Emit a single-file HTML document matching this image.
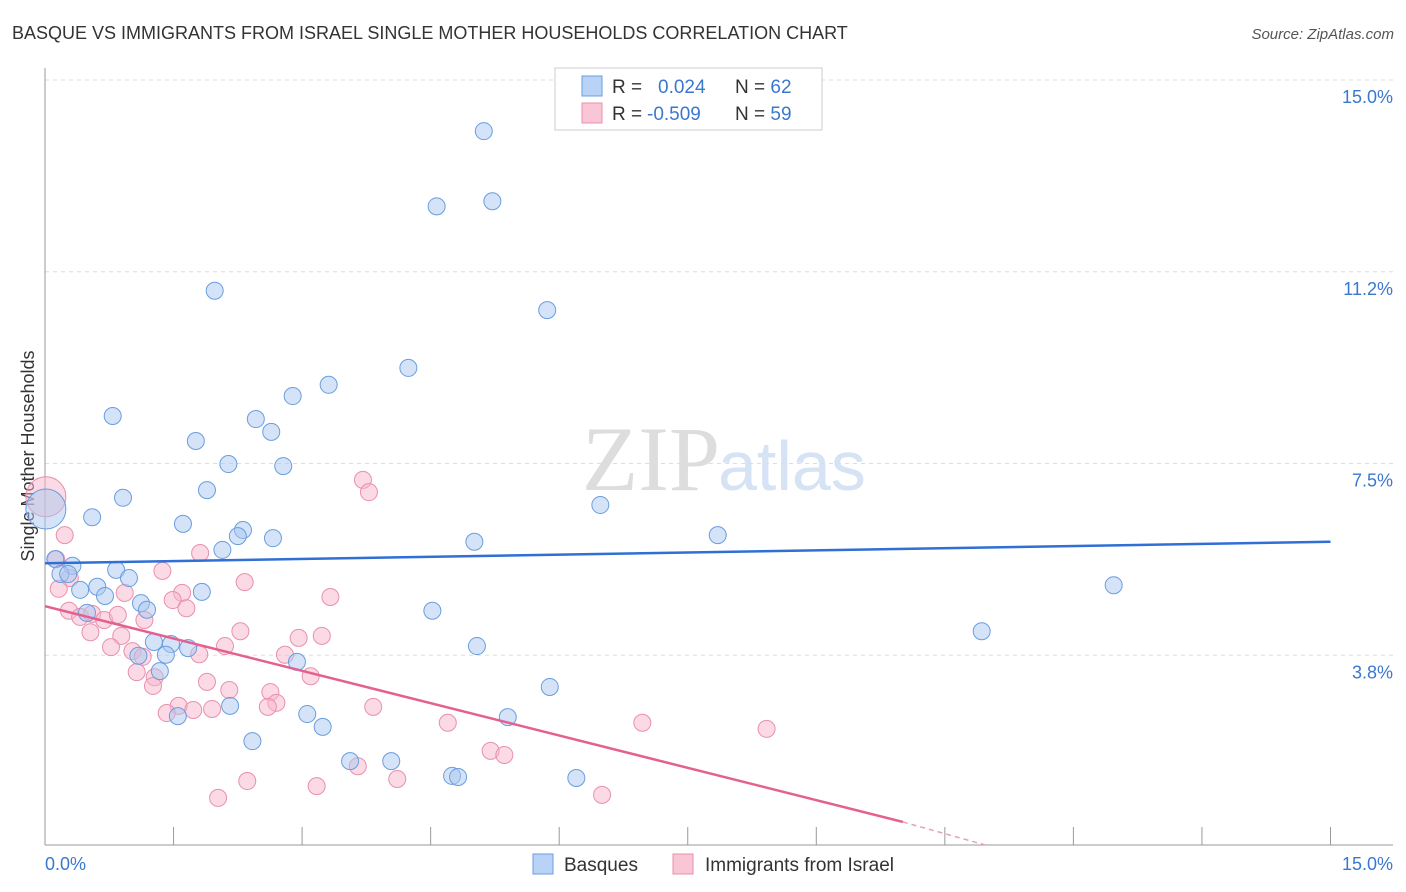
<!DOCTYPE html>
<html><head><meta charset="utf-8"><style>
body{margin:0;background:#fff;font-family:"Liberation Sans",sans-serif}
svg{display:block}
</style></head><body>
<svg id="chart" width="1406" height="892">
<text x="12" y="39" font-size="18" fill="#333">BASQUE VS IMMIGRANTS FROM ISRAEL SINGLE MOTHER HOUSEHOLDS CORRELATION CHART</text>
<text x="1394" y="39" font-size="15" fill="#555" font-style="italic" text-anchor="end">Source: ZipAtlas.com</text>
<text x="720" y="490" font-size="92" fill="#ddd" text-anchor="end" font-family="Liberation Serif,serif">ZIP</text>
<text x="718" y="490" font-size="70" fill="#d5e3f5">atlas</text>
<text transform="translate(34,456) rotate(-90)" font-size="18" fill="#333" text-anchor="middle">Single Mother Households</text>
<g id="grid"></g><g id="axes"></g><g id="marks"></g>
<g>
<rect x="555" y="68" width="267" height="62" fill="#fff" stroke="#ccc"/>
<rect x="582" y="76" width="20" height="20" fill="#b8d3f5" stroke="#6a9de0"/>
<rect x="582" y="103" width="20" height="20" fill="#f9c6d6" stroke="#e890ad"/>
<text x="612" y="93" font-size="19" fill="#333">R = <tspan x="658" fill="#3a78d0">0.024</tspan><tspan x="735" fill="#333">N = </tspan><tspan fill="#3a78d0">62</tspan></text>
<text x="612" y="120" font-size="19" fill="#333">R = <tspan x="647" fill="#3a78d0">-0.509</tspan><tspan x="735" fill="#333">N = </tspan><tspan fill="#3a78d0">59</tspan></text>
</g>
<g>
<rect x="533" y="854" width="20" height="20" fill="#b8d3f5" stroke="#6a9de0"/>
<text x="564" y="871" font-size="19" fill="#333">Basques</text>
<rect x="673" y="854" width="20" height="20" fill="#f9c6d6" stroke="#e890ad"/>
<text x="705" y="871" font-size="19" fill="#333">Immigrants from Israel</text>
</g>
</svg>
<script>
const yTicks=[15,11.25,7.5,3.75];
const yTickLabels=["15.0%","11.2%","7.5%","3.8%"];
const xTicks=[0,1.5,3,4.5,6,7.5,9,10.5,12,13.5,15];
const blueX=[5.12,4.57,5.22,1.98,5.86,4.24,3.31,2.89,0.79,2.46,1.76,2.64,2.14,2.78,1.89,0.91,0.55,1.61,2.31,2.25,2.66,2.07,5.01,6.48,7.85,12.47,10.93,0.12,0.32,0.18,0.27,0.83,0.98,0.61,0.41,0.70,1.12,1.19,1.83,0.49,4.52,1.27,1.47,1.67,1.09,1.41,1.34,5.04,2.94,5.89,2.16,1.55,3.06,5.40,3.24,2.42,3.56,4.04,4.75,4.82,6.20];
const blueY=[14.00,12.53,12.63,10.88,10.50,9.37,9.04,8.82,8.43,8.37,7.94,8.12,7.49,7.45,6.98,6.83,6.45,6.32,6.20,6.08,6.04,5.81,5.97,6.69,6.10,5.12,4.22,5.63,5.50,5.34,5.34,5.42,5.26,5.09,5.03,4.91,4.77,4.64,4.99,4.58,4.62,4.01,3.97,3.89,3.74,3.76,3.44,3.93,3.62,3.13,2.76,2.56,2.60,2.54,2.35,2.07,1.68,1.68,1.39,1.37,1.35];
const pinkX=[0.23,0.13,0.29,0.16,1.37,1.81,2.33,3.33,3.71,3.78,1.60,1.49,1.65,0.28,0.41,0.55,0.69,0.85,0.93,0.53,0.89,1.16,2.28,2.10,0.77,1.02,1.14,1.80,2.96,3.23,2.80,3.10,1.07,1.28,1.26,1.89,2.15,2.63,2.70,1.56,1.42,1.73,1.95,2.60,3.83,4.70,6.97,8.42,5.20,5.36,3.65,2.36,3.17,4.11,2.02,6.50];
const pinkY=[6.10,5.63,5.26,5.05,5.40,5.75,5.18,4.89,7.18,6.94,4.97,4.83,4.67,4.62,4.50,4.56,4.44,4.54,4.97,4.20,4.13,4.44,4.22,3.93,3.91,3.83,3.72,3.77,4.09,4.13,3.76,3.34,3.42,3.32,3.15,3.23,3.07,3.03,2.82,2.76,2.62,2.68,2.70,2.74,2.74,2.43,2.43,2.31,1.88,1.80,1.58,1.29,1.19,1.33,0.96,1.02];
const bigBlue=[0.01,6.61], bigPink=[0.01,6.85];
const blueTrend=[[0,5.55],[15,5.97]];
const pinkTrend=[[0,4.71],[10.01,0.49]];
const pinkTrendDash=[[10.01,0.49],[10.97,0.04]];

const NS="http://www.w3.org/2000/svg";
const X=v=>45+v*85.7, Y=v=>847-v*51.13;
function mk(tag,attrs,parent){const e=document.createElementNS(NS,tag);for(const k in attrs)e.setAttribute(k,attrs[k]);parent.appendChild(e);return e;}
const grid=document.getElementById('grid'),axes=document.getElementById('axes'),marks=document.getElementById('marks');
yTicks.forEach((t,i)=>{
  const l=mk('line',{x1:45,x2:1393,y1:Y(t),y2:Y(t),stroke:'#ddd','stroke-dasharray':'4,4'},grid);
  
  
  const tx=mk('text',{x:1393,y:Y(t)+23,'font-size':18,fill:'#3a78d0','text-anchor':'end'},axes);
  tx.textContent=yTickLabels[i];
  
  
});
mk('line',{x1:45,x2:45,y1:68,y2:845,stroke:'#999'},axes);
mk('line',{x1:45,x2:1393,y1:845,y2:845,stroke:'#999'},axes);
xTicks.forEach(t=>{
  const l=mk('line',{x1:X(t),x2:X(t),y1:827,y2:845,stroke:'#999'},axes);
  
  
});
const x0=mk('text',{x:45,y:870,'font-size':18,fill:'#3a78d0'},axes);x0.textContent='0.0%';


const x1=mk('text',{x:1393,y:870,'font-size':18,fill:'#3a78d0','text-anchor':'end'},axes);x1.textContent='15.0%';



function dot(x,y,r,fill,stroke){
  const c=mk('circle',{cx:X(x),cy:Y(y),r:r,fill:fill,'fill-opacity':0.5,stroke:stroke,'stroke-width':1},marks);
  
  
}
dot(bigPink[0],bigPink[1],20,'#f7b6cb','#e890ad');
dot(bigBlue[0],bigBlue[1],20,'#a9c8f0','#6a9de0');
pinkX.forEach((x,i)=>dot(x,pinkY[i],8.5,'#f7b6cb','#e890ad'));
blueX.forEach((x,i)=>dot(x,blueY[i],8.5,'#a9c8f0','#6a9de0'));
const bt=mk('line',{x1:X(blueTrend[0][0]),y1:Y(blueTrend[0][1]),x2:X(blueTrend[1][0]),y2:Y(blueTrend[1][1]),stroke:'#2f6fd6','stroke-width':2.5},marks);


const pt=mk('line',{x1:X(pinkTrend[0][0]),y1:Y(pinkTrend[0][1]),x2:X(pinkTrend[1][0]),y2:Y(pinkTrend[1][1]),stroke:'#e4608f','stroke-width':2.5},marks);


const pd=mk('line',{x1:X(pinkTrendDash[0][0]),y1:Y(pinkTrendDash[0][1]),x2:X(pinkTrendDash[1][0]),y2:Y(pinkTrendDash[1][1]),stroke:'#e4a0b8','stroke-width':1.5,'stroke-dasharray':'5,4'},marks);


</script>
</body></html>
